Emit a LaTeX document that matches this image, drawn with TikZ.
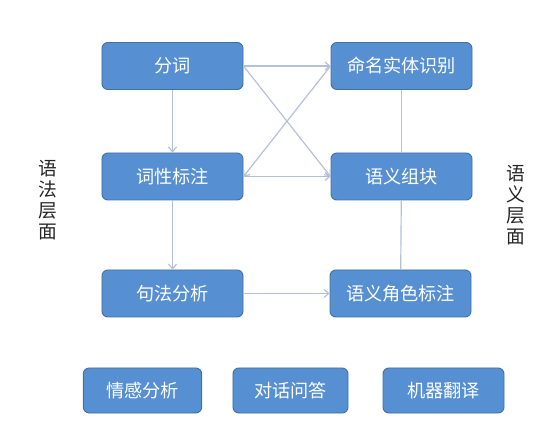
\documentclass[tikz,border=0pt]{standalone}
\usepackage{fontspec}
\setmainfont{Noto Sans CJK SC}
\usepackage{tikz}
\usetikzlibrary{arrows.meta}
\definecolor{boxblue}{RGB}{86,144,210}
\definecolor{boxedge}{RGB}{66,112,160}
\definecolor{linkgray}{RGB}{178,192,216}
\begin{document}
\begin{tikzpicture}[x=0.03cm,y=-0.03cm,
                    task/.style={draw=boxedge,fill=boxblue,rounded corners=5pt,line width=0.8pt,
                                 text=white,font=\fontsize{15.5}{17}\selectfont,
                                 minimum width=4.23cm,minimum height=1.41cm,inner sep=0pt},
                    app/.style={task,minimum width=3.55cm,minimum height=1.35cm},
                    link/.style={linkgray,line width=1pt},
                    tip/.style={-{Straight Barb[length=4pt,width=7pt]}},
                    side/.style={align=center,font=\fontsize{16}{18}\selectfont,text=black!85}]
                              \useasboundingbox (0,0) rectangle (556,431);

                              % Syntax level
                              \node[task] (fenci) at (172.5,66) {分词};
                              \node[task] (cixing) at (172.5,176.5) {词性标注};
                              \node[task] (jufa) at (172.5,293.5) {句法分析};

                              % Semantic level
                              \node[task] (shiti) at (401.5,66) {命名实体识别};
                              \node[task] (zukuai) at (401.5,176.5) {语义组块};
                              \node[task] (juese) at (400.5,293.5) {语义角色标注};

                              % Applications
                              \node[app] (qinggan) at (142.5,390.5) {情感分析};
                              \node[app,minimum width=3.45cm] (wenda) at (290.5,390.5) {对话问答};
                              \node[app,minimum width=3.63cm] (fanyi) at (443.5,390.5) {机器翻译};

                              % Side labels
                              \node[side] (yufa) at (48,200) {语\\法\\层\\面};
                              \node[side] (yuyi) at (516,205) {语\\义\\层\\面};

                              % Links
                              \draw[link,tip] (fenci) -- (cixing);
                              \draw[link,tip] (cixing) -- (jufa);
                              \draw[link,tip] (fenci.east) -- (shiti.west);
                              \draw[link,tip] (fenci.east) -- (zukuai.west);
                              \draw[link,tip] (shiti.west) -- (cixing.east);
                              \draw[link,tip] (cixing.east) -- (zukuai.west);
                              \draw[link,tip] (jufa.east) -- (juese.west);
                              \draw[link] (shiti) -- (zukuai);
                              \draw[link] (zukuai) -- (juese);
                        \end{tikzpicture}
\end{document}
